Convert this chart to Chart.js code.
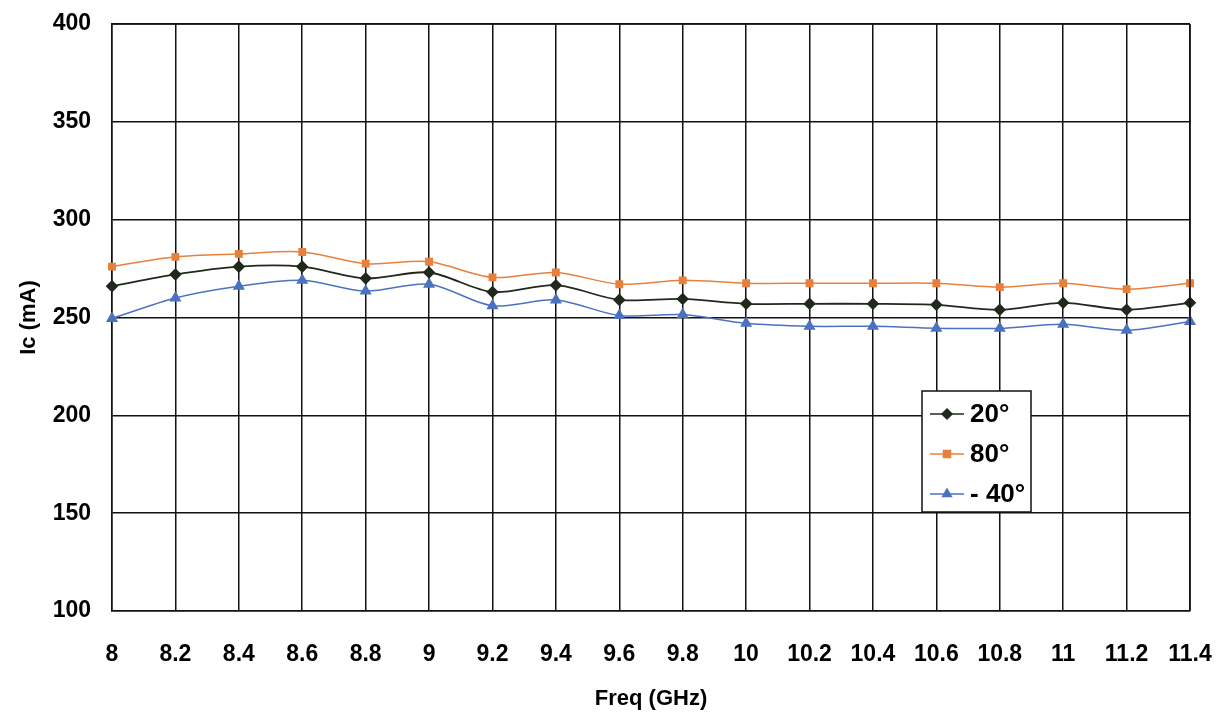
<!DOCTYPE html>
<html>
<head>
<meta charset="utf-8">
<script src="https://cdn.jsdelivr.net/npm/chart.js@4"></script>
<style>
  html, body { margin: 0; padding: 0; background: #fff; }
  #wrap { width: 1221px; height: 716px; }
</style>
</head>
<body>
<div id="wrap"><canvas id="icChart" width="1221" height="716"></canvas></div>
<script>
// Frequency points (GHz)
const freqLabels = ['8', '8.2', '8.4', '8.6', '8.8', '9', '9.2', '9.4', '9.6', '9.8',
                    '10', '10.2', '10.4', '10.6', '10.8', '11', '11.2', '11.4'];

// Ic (mA) per temperature
const ic20 = [266, 272, 276, 276, 270, 273, 263, 266.5, 259, 259.5, 257, 257, 257, 256.5, 254, 257.5, 254, 257.5];
const ic80 = [276, 281, 282.5, 283.5, 277.5, 278.5, 270.5, 273, 267, 269, 267.5, 267.5, 267.5, 267.5, 265.5, 267.5, 264.5, 267.5];
const icMinus40 = [249.5, 260, 266, 269, 263.5, 267, 256, 259, 251, 251.5, 247, 245.5, 245.5, 244.5, 244.5, 246.5, 243.5, 248];

const yTicks = [100, 150, 200, 250, 300, 350, 400];

const FONT = '"Liberation Sans", Arial, sans-serif';

// legend box drawn inside the plot area
const boxLegend = {
    id: 'boxLegend',
    afterDraw(chart) {
        const ctx = chart.ctx;
        const x = 922, y = 391, w = 109, h = 121;
        ctx.save();
        ctx.fillStyle = '#fff';
        ctx.fillRect(x, y, w, h);
        ctx.strokeStyle = '#111';
        ctx.lineWidth = 1.5;
        ctx.strokeRect(x, y, w, h);
        chart.data.datasets.forEach((ds, i) => {
            const cy = y + 23 + i * 40;
            ctx.strokeStyle = ds.borderColor;
            ctx.lineWidth = 1.5;
            ctx.beginPath();
            ctx.moveTo(x + 8, cy);
            ctx.lineTo(x + 42, cy);
            ctx.stroke();
            ctx.fillStyle = ds.pointBackgroundColor;
            ctx.strokeStyle = ds.pointBackgroundColor;
            Chart.helpers.drawPoint(ctx, {
                pointStyle: ds.pointStyle, radius: 5, borderWidth: 1
            }, x + 25, cy);
            ctx.fillStyle = '#000';
            ctx.font = 'bold 26px ' + FONT;
            ctx.textBaseline = 'middle';
            ctx.fillText(ds.label, x + 48, cy + 1);
        });
        ctx.restore();
    }
};

const ctx = document.getElementById('icChart').getContext('2d');
new Chart(ctx, {
    type: 'line',
    data: {
        labels: freqLabels,
        datasets: [{
            label: '20°',
            data: ic20,
            borderColor: '#1f2a1c',
            backgroundColor: '#1f2a1c',
            pointBackgroundColor: '#1f2a1c',
            pointStyle: 'rectRot',
            pointRadius: 5,
            borderWidth: 1.8,
            tension: 0.3
        }, {
            label: '80°',
            data: ic80,
            borderColor: '#e8803c',
            backgroundColor: '#e8803c',
            pointBackgroundColor: '#e8803c',
            pointStyle: 'rect',
            pointRadius: 4.5,
            borderWidth: 1.5,
            tension: 0.3
        }, {
            label: '- 40°',
            data: icMinus40,
            borderColor: '#4a72c0',
            backgroundColor: '#4a72c0',
            pointBackgroundColor: '#4a72c0',
            pointStyle: 'triangle',
            pointRadius: 5.5,
            borderWidth: 1.5,
            tension: 0.3
        }]
    },
    options: {
        responsive: false,
        animation: false,
        layout: { padding: { top: 24, right: 31, left: 0, bottom: 0 } },
        plugins: {
            legend: { display: false },
            tooltip: { enabled: false }
        },
        scales: {
            x: {
                type: 'category',
                offset: false,
                afterFit(scale) {
                    scale.height = 105;
                    scale.paddingLeft = 0;
                    scale.paddingRight = 0;
                },
                grid: { color: '#111', lineWidth: 1.5, drawTicks: false },
                border: { color: '#111', width: 1.5 },
                ticks: {
                    color: '#000', padding: 30, maxRotation: 0, autoSkip: false,
                    font: { family: FONT, size: 23, weight: 'bold' }
                },
                title: {
                    display: true, text: 'Freq (GHz)', color: '#000',
                    padding: { top: 14 },
                    font: { family: FONT, size: 22, weight: 'bold' }
                }
            },
            y: {
                min: 100,
                max: 400,
                afterFit(scale) {
                    scale.width = 112;
                    scale.paddingTop = 0;
                    scale.paddingBottom = 0;
                },
                afterBuildTicks(scale) { scale.ticks = yTicks.map(v => ({ value: v })); },
                grid: { color: '#111', lineWidth: 1.5, drawTicks: false },
                border: { color: '#111', width: 1.5 },
                ticks: {
                    color: '#000', padding: 21,
                    font: { family: FONT, size: 23, weight: 'bold' }
                },
                title: {
                    display: true, text: 'Ic (mA)', color: '#000',
                    padding: { top: 16, bottom: 0 },
                    font: { family: FONT, size: 22, weight: 'bold' }
                }
            }
        }
    },
    plugins: [boxLegend, {
        id: 'frame',
        afterDraw(chart) {
            const a = chart.chartArea, c = chart.ctx;
            c.save();
            c.strokeStyle = '#111';
            c.lineWidth = 1.5;
            c.beginPath();
            c.moveTo(a.right, a.top);
            c.lineTo(a.right, a.bottom);
            c.moveTo(a.left, a.top);
            c.lineTo(a.right, a.top);
            c.stroke();
            c.restore();
        }
    }]
});
</script>
</body>
</html>
